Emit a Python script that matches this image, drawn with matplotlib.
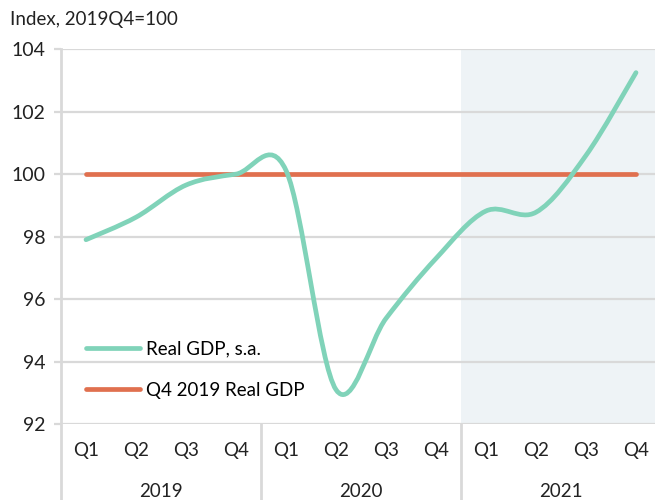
import matplotlib
matplotlib.use("Agg")
import matplotlib.pyplot as plt
from matplotlib.path import Path
from matplotlib.patches import PathPatch

plt.rcParams['font.family'] = ['Lato', 'DejaVu Sans']

quarters = ["Q1", "Q2", "Q3", "Q4"] * 3
years = ["2019", "2020", "2021"]
real_gdp = [97.9, 98.62, 99.65, 100.0, 100.12, 93.1,
            95.38, 97.3, 98.82, 98.78, 100.6, 103.25]
q4_2019 = [100.0] * 12

GREEN = "#80d3b9"
ORANGE = "#e0704f"
GRID = "#d9d9d9"
FS = 13.5


def smooth_path(xs, ys):
    # excel-style smoothed line: catmull-rom turned into cubic bezier segments
    verts = [(xs[0], ys[0])]
    codes = [Path.MOVETO]
    n = len(xs)
    for i in range(n - 1):
        x0, y0 = (xs[i - 1], ys[i - 1]) if i > 0 else (xs[i], ys[i])
        x1, y1 = xs[i], ys[i]
        x2, y2 = xs[i + 1], ys[i + 1]
        x3, y3 = (xs[i + 2], ys[i + 2]) if i + 2 < n else (x2, y2)
        c1 = (x1 + (x2 - x0) / 6, y1 + (y2 - y0) / 6)
        c2 = (x2 - (x3 - x1) / 6, y2 - (y3 - y1) / 6)
        verts += [c1, c2, (x2, y2)]
        codes += [Path.CURVE4] * 3
    return Path(verts, codes)


fig = plt.figure(figsize=(6.55, 5.0), dpi=100)
ax = fig.add_axes([61 / 655, 76 / 500, 600 / 655, 374.8 / 500])

x = list(range(len(quarters)))
ax.set_xlim(-0.5, 11.5)
ax.set_ylim(92, 104)

ax.axvspan(7.5, 11.5, color="#eef3f6", zorder=0, lw=0)
ax.set_yticks(range(92, 105, 2))
ax.grid(axis="y", color=GRID, lw=1.6, zorder=1)
ax.set_axisbelow(True)

patch = PathPatch(smooth_path(x, real_gdp), fill=False, edgecolor=GREEN,
                  lw=3.4, capstyle="round", zorder=3)
ax.add_patch(patch)
ax.plot([], [], color=GREEN, lw=3.4, solid_capstyle="round", label="Real GDP, s.a.")
ax.plot(x, q4_2019, color=ORANGE, lw=3.4, solid_capstyle="round",
        label="Q4 2019 Real GDP", zorder=2)

for s in ["top", "right", "bottom", "left"]:
    ax.spines[s].set_visible(False)

# left axis line and year separators, running down into the label area
for xv in [-0.5, 3.5, 7.5]:
    ax.axvline(xv, ymin=-0.25, ymax=1 if xv < 0 else 0, color=GRID, lw=2,
               clip_on=False, zorder=1)

ax.set_xticks(x)
ax.set_xticklabels(quarters)
ax.tick_params(axis="x", length=0, pad=13, labelsize=FS, colors="#222222")
ax.tick_params(axis="y", length=5, width=1.6, color=GRID, pad=6,
               labelsize=FS + 0.5, labelcolor="#222222")

for i, yr in enumerate(years):
    ax.text(1.5 + 4 * i, -0.18, yr, transform=ax.get_xaxis_transform(),
            ha="center", va="center", fontsize=FS, color="#222222")

fig.text(10 / 655, 1 - 20 / 500, "Index, 2019Q4=100", ha="left", va="center",
         fontsize=FS, color="#222222")

ax.legend(loc="lower left", bbox_to_anchor=(25 / 600, 0.068), frameon=False,
          fontsize=FS, handlelength=2.9, handletextpad=0.3, labelspacing=1.3,
          borderaxespad=0, borderpad=0)

fig.savefig("out.png", dpi=100)
